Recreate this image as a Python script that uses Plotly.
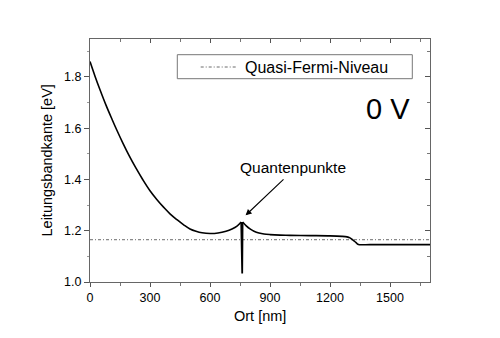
import plotly.graph_objects as go

# ---- data ----
ort_nm = [0, 25, 50, 80, 110, 135, 165, 195, 230, 265, 300, 335, 370, 400, 435,
          470, 500, 530, 560, 600, 640, 680, 710, 735, 756,
          758, 761, 763,
          780, 800, 820, 845, 870, 900, 950, 1000, 1100, 1200, 1260, 1285,
          1300, 1312, 1325, 1335, 1342, 1400, 1550, 1700]
leitungsband_ev = [1.860, 1.803, 1.750, 1.690, 1.635, 1.591, 1.541, 1.494, 1.444, 1.398, 1.356,
                   1.321, 1.290, 1.266, 1.243, 1.222, 1.207, 1.198, 1.192, 1.189,
                   1.191, 1.198, 1.207, 1.218, 1.234,
                   1.033, 1.033, 1.234,
                   1.220, 1.207, 1.198, 1.191, 1.187, 1.185, 1.183, 1.182, 1.181,
                   1.180, 1.178, 1.176, 1.172, 1.165, 1.157, 1.150, 1.146, 1.146,
                   1.146, 1.146]

fermi_x = [0, 1700]
fermi_ev = [1.165, 1.165]

x_ticks = [0, 300, 600, 900, 1200, 1500]
y_ticks = [1.0, 1.2, 1.4, 1.6, 1.8]
x_range = [0, 1700]
y_range = [1.0, 1.948]

legend_label = "Quasi-Fermi-Niveau"
spannung_label = "0 V"
qd_label = "Quantenpunkte"
x_title = "Ort [nm]"
y_title = "Leitungsbandkante [eV]"

FONT = "Liberation Sans, Arial, sans-serif"

# segments: smooth band before the dots, the narrow dot well, smooth band after
i_peak = ort_nm.index(756)
i_after = ort_nm.index(763)

fig = go.Figure()
fig.add_trace(go.Scatter(x=fermi_x, y=fermi_ev, mode="lines", name=legend_label,
                         line=dict(color="#444", width=0.8, dash="3px,2px,1px,2px"),
                         showlegend=False, hoverinfo="skip"))
fig.add_trace(go.Scatter(x=ort_nm[:i_peak + 1], y=leitungsband_ev[:i_peak + 1], mode="lines",
                         line=dict(color="black", width=1.6, shape="spline", smoothing=1.0),
                         showlegend=False, hoverinfo="skip"))
fig.add_trace(go.Scatter(x=ort_nm[i_peak:i_after + 1], y=leitungsband_ev[i_peak:i_after + 1],
                         mode="lines", line=dict(color="black", width=1.8),
                         showlegend=False, hoverinfo="skip"))
fig.add_trace(go.Scatter(x=ort_nm[i_after:], y=leitungsband_ev[i_after:], mode="lines",
                         line=dict(color="black", width=1.6, shape="spline", smoothing=0.8),
                         showlegend=False, hoverinfo="skip"))

axis_common = dict(showgrid=False, zeroline=False, showline=True,
                   linecolor="#666", linewidth=1, tickcolor="#555",
                   tickfont=dict(family=FONT, size=12.5, color="black"))

fig.update_layout(
    width=500, height=338,
    margin=dict(l=90, r=70, t=39, b=56),
    paper_bgcolor="white", plot_bgcolor="white",
    font=dict(family=FONT, color="black"),
    xaxis=dict(range=x_range, tickvals=x_ticks, ticktext=[str(v) for v in x_ticks],
               ticks="outside", ticklen=4, tickwidth=1,
               minor=dict(dtick=150, tick0=0, ticks="outside", ticklen=3, tickcolor="#777"),
               **axis_common),
    yaxis=dict(range=y_range, tickvals=y_ticks, ticktext=["%.1f" % v for v in y_ticks],
               ticks="outside", ticklen=5, tickwidth=1,
               minor=dict(dtick=0.1, tick0=1.0, ticks="outside", ticklen=2, tickcolor="#999"),
               **axis_common),
    xaxis2=dict(range=x_range, overlaying="x", side="top", matches="x",
                tickvals=x_ticks, showticklabels=False, ticks="inside", ticklen=4,
                minor=dict(dtick=150, tick0=0, ticks="inside", ticklen=3, tickcolor="#777"),
                **axis_common),
    yaxis2=dict(range=y_range, overlaying="y", side="right",
                tickvals=y_ticks, showticklabels=False, ticks="inside", ticklen=5,
                minor=dict(dtick=0.1, tick0=1.0, ticks="inside", ticklen=3, tickcolor="#777"),
                **axis_common),
)
# invisible trace to activate the mirrored axes
fig.add_trace(go.Scatter(x=fermi_x, y=fermi_ev, xaxis="x2", yaxis="y2", mode="lines",
                         line=dict(width=0, color="rgba(0,0,0,0)"), showlegend=False,
                         hoverinfo="skip"))

# legend box drawn manually
fig.add_shape(type="rect", xref="paper", yref="paper",
              x0=(177.3 - 90) / 340, x1=(412.3 - 90) / 340,
              y0=(282 - 78.7) / 243, y1=(282 - 54.7) / 243,
              line=dict(color="#777", width=1), fillcolor="white")
fig.add_shape(type="line", xref="paper", yref="paper",
              x0=(200.7 - 90) / 340, x1=(236 - 90) / 340,
              y0=(282 - 67) / 243, y1=(282 - 67) / 243,
              line=dict(color="#444", width=0.8, dash="3px,2px,1px,2px"))
fig.add_annotation(xref="paper", yref="paper", x=(243 - 90) / 340, y=(282 - 67.3) / 243,
                   text=legend_label, showarrow=False, xanchor="left", yanchor="middle",
                   font=dict(family=FONT, size=16, color="black"))

fig.add_annotation(xref="paper", yref="paper", x=(411.5 - 90) / 340, y=(282 - 108.5) / 243,
                   text=spannung_label, showarrow=False, xanchor="right", yanchor="middle",
                   font=dict(family=FONT, size=29, color="black"))

# Quantenpunkte label and arrow
fig.add_annotation(x=1017, y=1.445, xref="x", yref="y", text=qd_label, showarrow=False,
                   xanchor="center", yanchor="middle",
                   font=dict(family=FONT, size=15.5, color="black"))
fig.add_annotation(x=778, y=1.260, ax=975, ay=1.406, xref="x", yref="y",
                   axref="x", ayref="y", text="", showarrow=True,
                   arrowhead=2, arrowsize=1.1, arrowwidth=1.1, arrowcolor="black")

# axis titles
fig.add_annotation(xref="paper", yref="paper", x=0.5, y=0, yshift=-34,
                   text=x_title, showarrow=False, xanchor="center", yanchor="middle",
                   font=dict(family=FONT, size=14.5, color="black"))
fig.add_annotation(xref="paper", yref="paper", x=0, y=0.5, xshift=-44,
                   text=y_title, showarrow=False, textangle=-90,
                   xanchor="center", yanchor="middle",
                   font=dict(family=FONT, size=14.5, color="black"))

fig.write_html("out.html")
